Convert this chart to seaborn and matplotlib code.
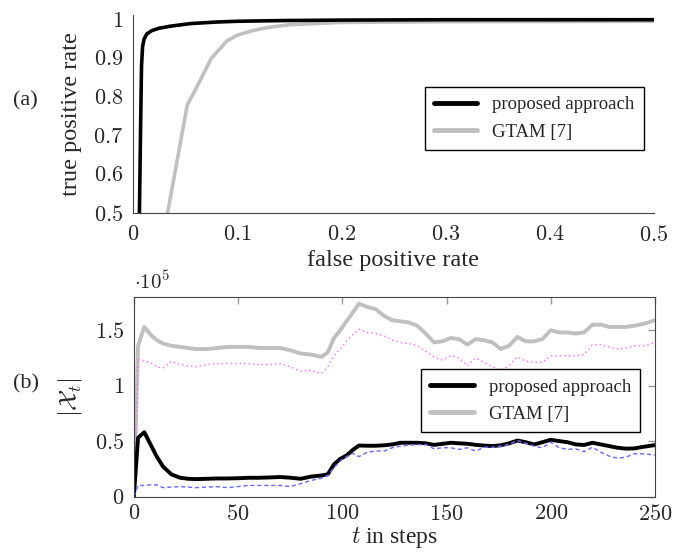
import numpy as np
import pandas as pd
import seaborn as sns
import matplotlib.pyplot as plt
from matplotlib.ticker import FuncFormatter
from matplotlib.lines import Line2D

# ROC curves (panel a) ########################################################

fpr_prop = [0.006, 0.007, 0.008, 0.009, 0.0105, 0.013, 0.018, 0.025, 0.035,
            0.055, 0.08, 0.1, 0.15, 0.2, 0.3, 0.5]
tpr_prop = [0.5, 0.7, 0.88, 0.93, 0.95, 0.963, 0.972, 0.978, 0.983,
            0.99, 0.994, 0.996, 0.998, 0.999, 1.0, 1.0]

fpr_gtam = [0.033, 0.052, 0.06, 0.075, 0.09, 0.1, 0.115, 0.13, 0.15, 0.2,
            0.3, 0.5]
tpr_gtam = [0.5, 0.78, 0.82, 0.9, 0.945, 0.96, 0.972, 0.98, 0.987, 0.993,
            0.995, 0.996]

# |X_t| over time (panel b), in units of 1e5 ##################################

steps = [0, 2, 5, 8, 11, 14, 18, 22, 26, 30, 35, 40, 45, 50, 55, 60, 65, 70,
         75, 80, 85, 90, 93, 96, 99, 102, 105, 108, 112, 116, 120, 124, 128,
         132, 136, 140, 144, 148, 152, 156, 160, 164, 168, 172, 176, 180, 184,
         188, 192, 196, 200, 204, 208, 212, 216, 220, 224, 228, 232, 236, 240,
         245, 250]

size_gtam = [0, 1.36, 1.53, 1.46, 1.41, 1.38, 1.36, 1.35, 1.34, 1.33, 1.33,
             1.34, 1.35, 1.35, 1.35, 1.34, 1.34, 1.34, 1.32, 1.29, 1.28, 1.26,
             1.30, 1.43, 1.50, 1.58, 1.66, 1.74, 1.71, 1.69, 1.63, 1.59, 1.58,
             1.57, 1.54, 1.47, 1.39, 1.40, 1.43, 1.42, 1.37, 1.42, 1.41, 1.39,
             1.33, 1.36, 1.44, 1.40, 1.40, 1.42, 1.50, 1.48, 1.48, 1.47, 1.48,
             1.55, 1.55, 1.53, 1.53, 1.53, 1.54, 1.56, 1.59]

size_gtam_dot = [0, 1.24, 1.22, 1.21, 1.17, 1.16, 1.22, 1.19, 1.18, 1.17, 1.19,
                 1.20, 1.20, 1.20, 1.20, 1.19, 1.19, 1.20, 1.17, 1.13, 1.14,
                 1.11, 1.17, 1.27, 1.33, 1.40, 1.46, 1.51, 1.48, 1.47, 1.45,
                 1.41, 1.39, 1.38, 1.36, 1.31, 1.26, 1.23, 1.27, 1.25, 1.18,
                 1.25, 1.21, 1.17, 1.14, 1.18, 1.26, 1.22, 1.21, 1.21, 1.27,
                 1.27, 1.27, 1.27, 1.28, 1.37, 1.37, 1.35, 1.33, 1.34, 1.36,
                 1.36, 1.39]

size_prop = [0, 0.53, 0.58, 0.47, 0.36, 0.27, 0.20, 0.17, 0.16, 0.157, 0.16,
             0.163, 0.163, 0.165, 0.169, 0.169, 0.172, 0.176, 0.17, 0.16,
             0.18, 0.19, 0.20, 0.29, 0.34, 0.37, 0.42, 0.46, 0.458, 0.458,
             0.462, 0.47, 0.485, 0.485, 0.485, 0.48, 0.466, 0.475, 0.485,
             0.48, 0.476, 0.466, 0.46, 0.455, 0.462, 0.48, 0.505, 0.49, 0.47,
             0.49, 0.512, 0.50, 0.49, 0.47, 0.465, 0.485, 0.47, 0.455, 0.44,
             0.432, 0.434, 0.45, 0.464]

size_prop_dash = [0, 0.10, 0.10, 0.105, 0.105, 0.08, 0.085, 0.089, 0.085, 0.08,
                  0.085, 0.089, 0.08, 0.09, 0.10, 0.10, 0.10, 0.10, 0.09,
                  0.115, 0.145, 0.165, 0.19, 0.26, 0.32, 0.36, 0.39, 0.36,
                  0.40, 0.41, 0.41, 0.44, 0.455, 0.464, 0.468, 0.47, 0.43,
                  0.44, 0.44, 0.425, 0.44, 0.41, 0.445, 0.445, 0.455, 0.47,
                  0.505, 0.48, 0.455, 0.44, 0.49, 0.44, 0.425, 0.43, 0.405,
                  0.445, 0.40, 0.365, 0.345, 0.355, 0.385, 0.385, 0.374]

# Style #######################################################################

sns.set_style("white")
plt.rcParams['font.family'] = ['Liberation Serif', 'DejaVu Serif']
plt.rcParams['mathtext.fontset'] = 'cm'

gray = '#c0c0c0'
tick_fmt = FuncFormatter(lambda v, p: '$%g$' % round(v, 3))

fig = plt.figure(figsize=(6.83, 5.52), dpi=100)
ax1 = fig.add_axes([0.195, 0.614, 0.762, 0.358])
ax2 = fig.add_axes([0.196, 0.1005, 0.763, 0.3615])

handles = [Line2D([], [], color='black', linewidth=3.5),
           Line2D([], [], color=gray, linewidth=3.5)]
labels = ['proposed approach', 'GTAM [7]']
leg_kw = dict(loc='upper left', fontsize=13.5, frameon=True, fancybox=False,
              edgecolor='black', framealpha=1, handlelength=2.3,
              borderpad=0.5, labelspacing=0.55, borderaxespad=0)

# Panel (a) ###################################################################

sns.lineplot(x=fpr_gtam, y=tpr_gtam, ax=ax1, color=gray, linewidth=2.6,
             sort=False, estimator=None)
sns.lineplot(x=fpr_prop, y=tpr_prop, ax=ax1, color='black', linewidth=2.6,
             sort=False, estimator=None)

ax1.set_xlim(0, 0.5)
ax1.set_ylim(0.5, 1.011)
ax1.set_xticks([0, 0.1, 0.2, 0.3, 0.4, 0.5])
ax1.set_yticks([0.5, 0.6, 0.7, 0.8, 0.9, 1.0])
ax1.xaxis.set_major_formatter(tick_fmt)
ax1.yaxis.set_major_formatter(tick_fmt)
ax1.spines['top'].set_visible(False)
ax1.spines['right'].set_visible(False)
for s in ['left', 'bottom']:
    ax1.spines[s].set_color('#444444')
    ax1.spines[s].set_linewidth(0.8)
ax1.tick_params(direction='in', length=5, width=1, color='#999999',
                labelsize=16)
ax1.tick_params(axis='x', pad=9)
ax1.tick_params(axis='y', pad=7)
ax1.set_xlabel('false positive rate', fontsize=17.5, labelpad=3)
ax1.set_ylabel('true positive rate', fontsize=17.5, labelpad=8)

ax1.legend(handles, labels, bbox_to_anchor=(0.56, 0.638), **leg_kw)
fig.text(0.019, 0.818, '(a)', fontsize=16, va='center')

# Panel (b) ###################################################################

sns.lineplot(x=steps, y=size_gtam, ax=ax2, color=gray, linewidth=2.8,
             estimator=None)
sns.lineplot(x=steps, y=size_gtam_dot, ax=ax2, color='#ff66ff', linewidth=1.0,
             linestyle=(0, (1, 2.2)), estimator=None)
sns.lineplot(x=steps, y=size_prop, ax=ax2, color='black', linewidth=2.8,
             estimator=None)
sns.lineplot(x=steps, y=size_prop_dash, ax=ax2, color='#6a6aff',
             linewidth=1.0, linestyle=(0, (3, 2)), estimator=None)

ax2.set_xlim(0, 250)
ax2.set_ylim(0, 1.8)
ax2.set_xticks([0, 50, 100, 150, 200, 250])
ax2.set_yticks([0, 0.5, 1, 1.5])
ax2.xaxis.set_major_formatter(tick_fmt)
ax2.yaxis.set_major_formatter(tick_fmt)
for s in ax2.spines.values():
    s.set_color('#444444')
    s.set_linewidth(0.8)
ax2.tick_params(direction='in', length=5, width=1, color='#999999',
                labelsize=16, top=True, right=True)
ax2.tick_params(axis='x', pad=6)
ax2.tick_params(axis='y', pad=7)
ax2.set_xlabel('$t$ in steps', fontsize=17, labelpad=0)
ax2.set_ylabel(r'$|\mathcal{X}_t|$', fontsize=18, labelpad=8)
ax2.text(0.0, 1.015, r'$\cdot 10^5$', transform=ax2.transAxes, fontsize=15,
         va='bottom', ha='left')

ax2.legend(handles, labels, bbox_to_anchor=(0.551, 0.639), **leg_kw)
fig.text(0.019, 0.305, '(b)', fontsize=16, va='center')

plt.savefig('out.png', dpi=100)
